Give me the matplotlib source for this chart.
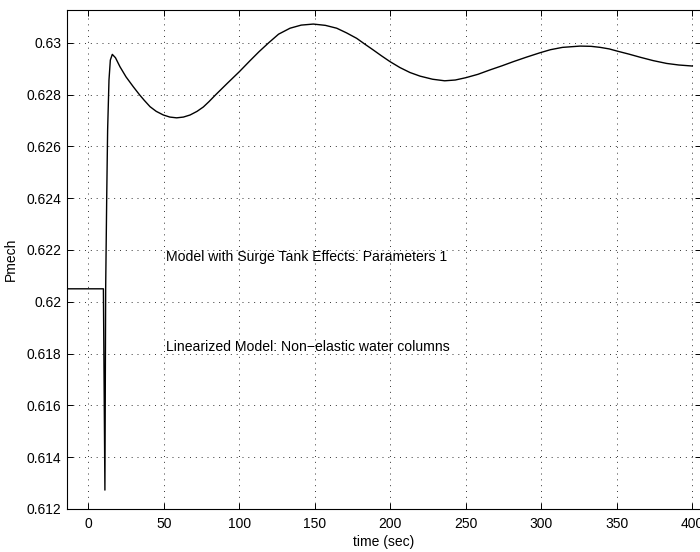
import matplotlib
matplotlib.use("Agg")
import matplotlib.pyplot as plt

time_sec = [-15, 10.0, 11.0, 11.5, 12.2, 12.8, 13.7, 14.6, 15.9, 18, 21, 25, 29.8, 33.8, 37,
            40.9, 45, 49.7, 54, 58.5, 63, 67.4, 72, 76.2, 80, 84.5, 92, 100, 107, 113,
            119.5, 126, 133.6, 141, 149, 157, 164.5, 171, 177.7, 183, 188.7, 194, 199.8,
            206.4, 213, 219.7, 228, 236, 243, 250, 258, 266, 274, 281.5, 290, 299, 306,
            314, 325.7, 333, 339, 345, 350, 358, 365.4, 374, 383, 391, 400]
pmech = [0.6205, 0.6205, 0.61273, 0.6205, 0.62405, 0.62663, 0.62856, 0.62933, 0.62955,
         0.62942, 0.62907, 0.62868, 0.6283, 0.6280, 0.62778, 0.62753, 0.62735, 0.62721,
         0.62713, 0.62710, 0.62713, 0.62721, 0.62735, 0.62752, 0.62773, 0.6280, 0.62843,
         0.62888, 0.6293, 0.62965, 0.6300, 0.63033, 0.63056, 0.63068, 0.63072, 0.63067,
         0.63056, 0.63038, 0.63017, 0.62995, 0.62972, 0.62950, 0.62927, 0.62904, 0.62885,
         0.62871, 0.62859, 0.62853, 0.62856, 0.62865, 0.62878, 0.62895, 0.62911, 0.62927,
         0.62944, 0.62961, 0.62973, 0.62982, 0.62987, 0.62986, 0.62982, 0.62976, 0.62968,
         0.62956, 0.62944, 0.62931, 0.62920, 0.62914, 0.62910]

x_ticks = [0, 50, 100, 150, 200, 250, 300, 350, 400]
y_ticks = [0.612, 0.614, 0.616, 0.618, 0.620, 0.622, 0.624, 0.626, 0.628, 0.630]
y_tick_labels = ['0.612', '0.614', '0.616', '0.618', '0.62', '0.622', '0.624',
                 '0.626', '0.628', '0.63']
annotations = [(50, 0.62174, 'Model with Surge Tank Effects: Parameters 1'),
               (50, 0.61827, 'Linearized Model: Non\u2212elastic water columns')]

plt.rcParams['font.family'] = ['Liberation Sans', 'DejaVu Sans']
plt.rcParams['font.size'] = 10

fig = plt.figure(figsize=(7.0, 5.52), dpi=100)
W, H = 700, 552
left, right, top, bottom = 66.7, 700.5, 10, 509
ax = fig.add_axes([left / W, (H - bottom) / H, (right - left) / W, (bottom - top) / H])

ax.plot(time_sec, pmech, color='black', lw=1.0)

ax.set_xlim(-14.3, 405.4)
ax.set_ylim(0.612, 0.631263)
ax.set_xticks(x_ticks)
ax.set_yticks(y_ticks)
ax.set_yticklabels(y_tick_labels)
ax.grid(True, color='#333333', linestyle=(0, (1, 5)), lw=0.7)
ax.tick_params(direction='in', length=4, width=0.7, top=True, right=True)
ax.tick_params(axis='x', pad=6)
ax.tick_params(axis='y', pad=4)
for s in ax.spines.values():
    s.set_linewidth(0.8)

for x, y, txt in annotations:
    ax.text(x + 1.5, y, txt, ha='left', va='center', fontsize=10.1)

ax.set_xlabel('time (sec)', labelpad=2.5)
ax.set_ylabel('Pmech', labelpad=6)

fig.savefig('out.png', dpi=100)
